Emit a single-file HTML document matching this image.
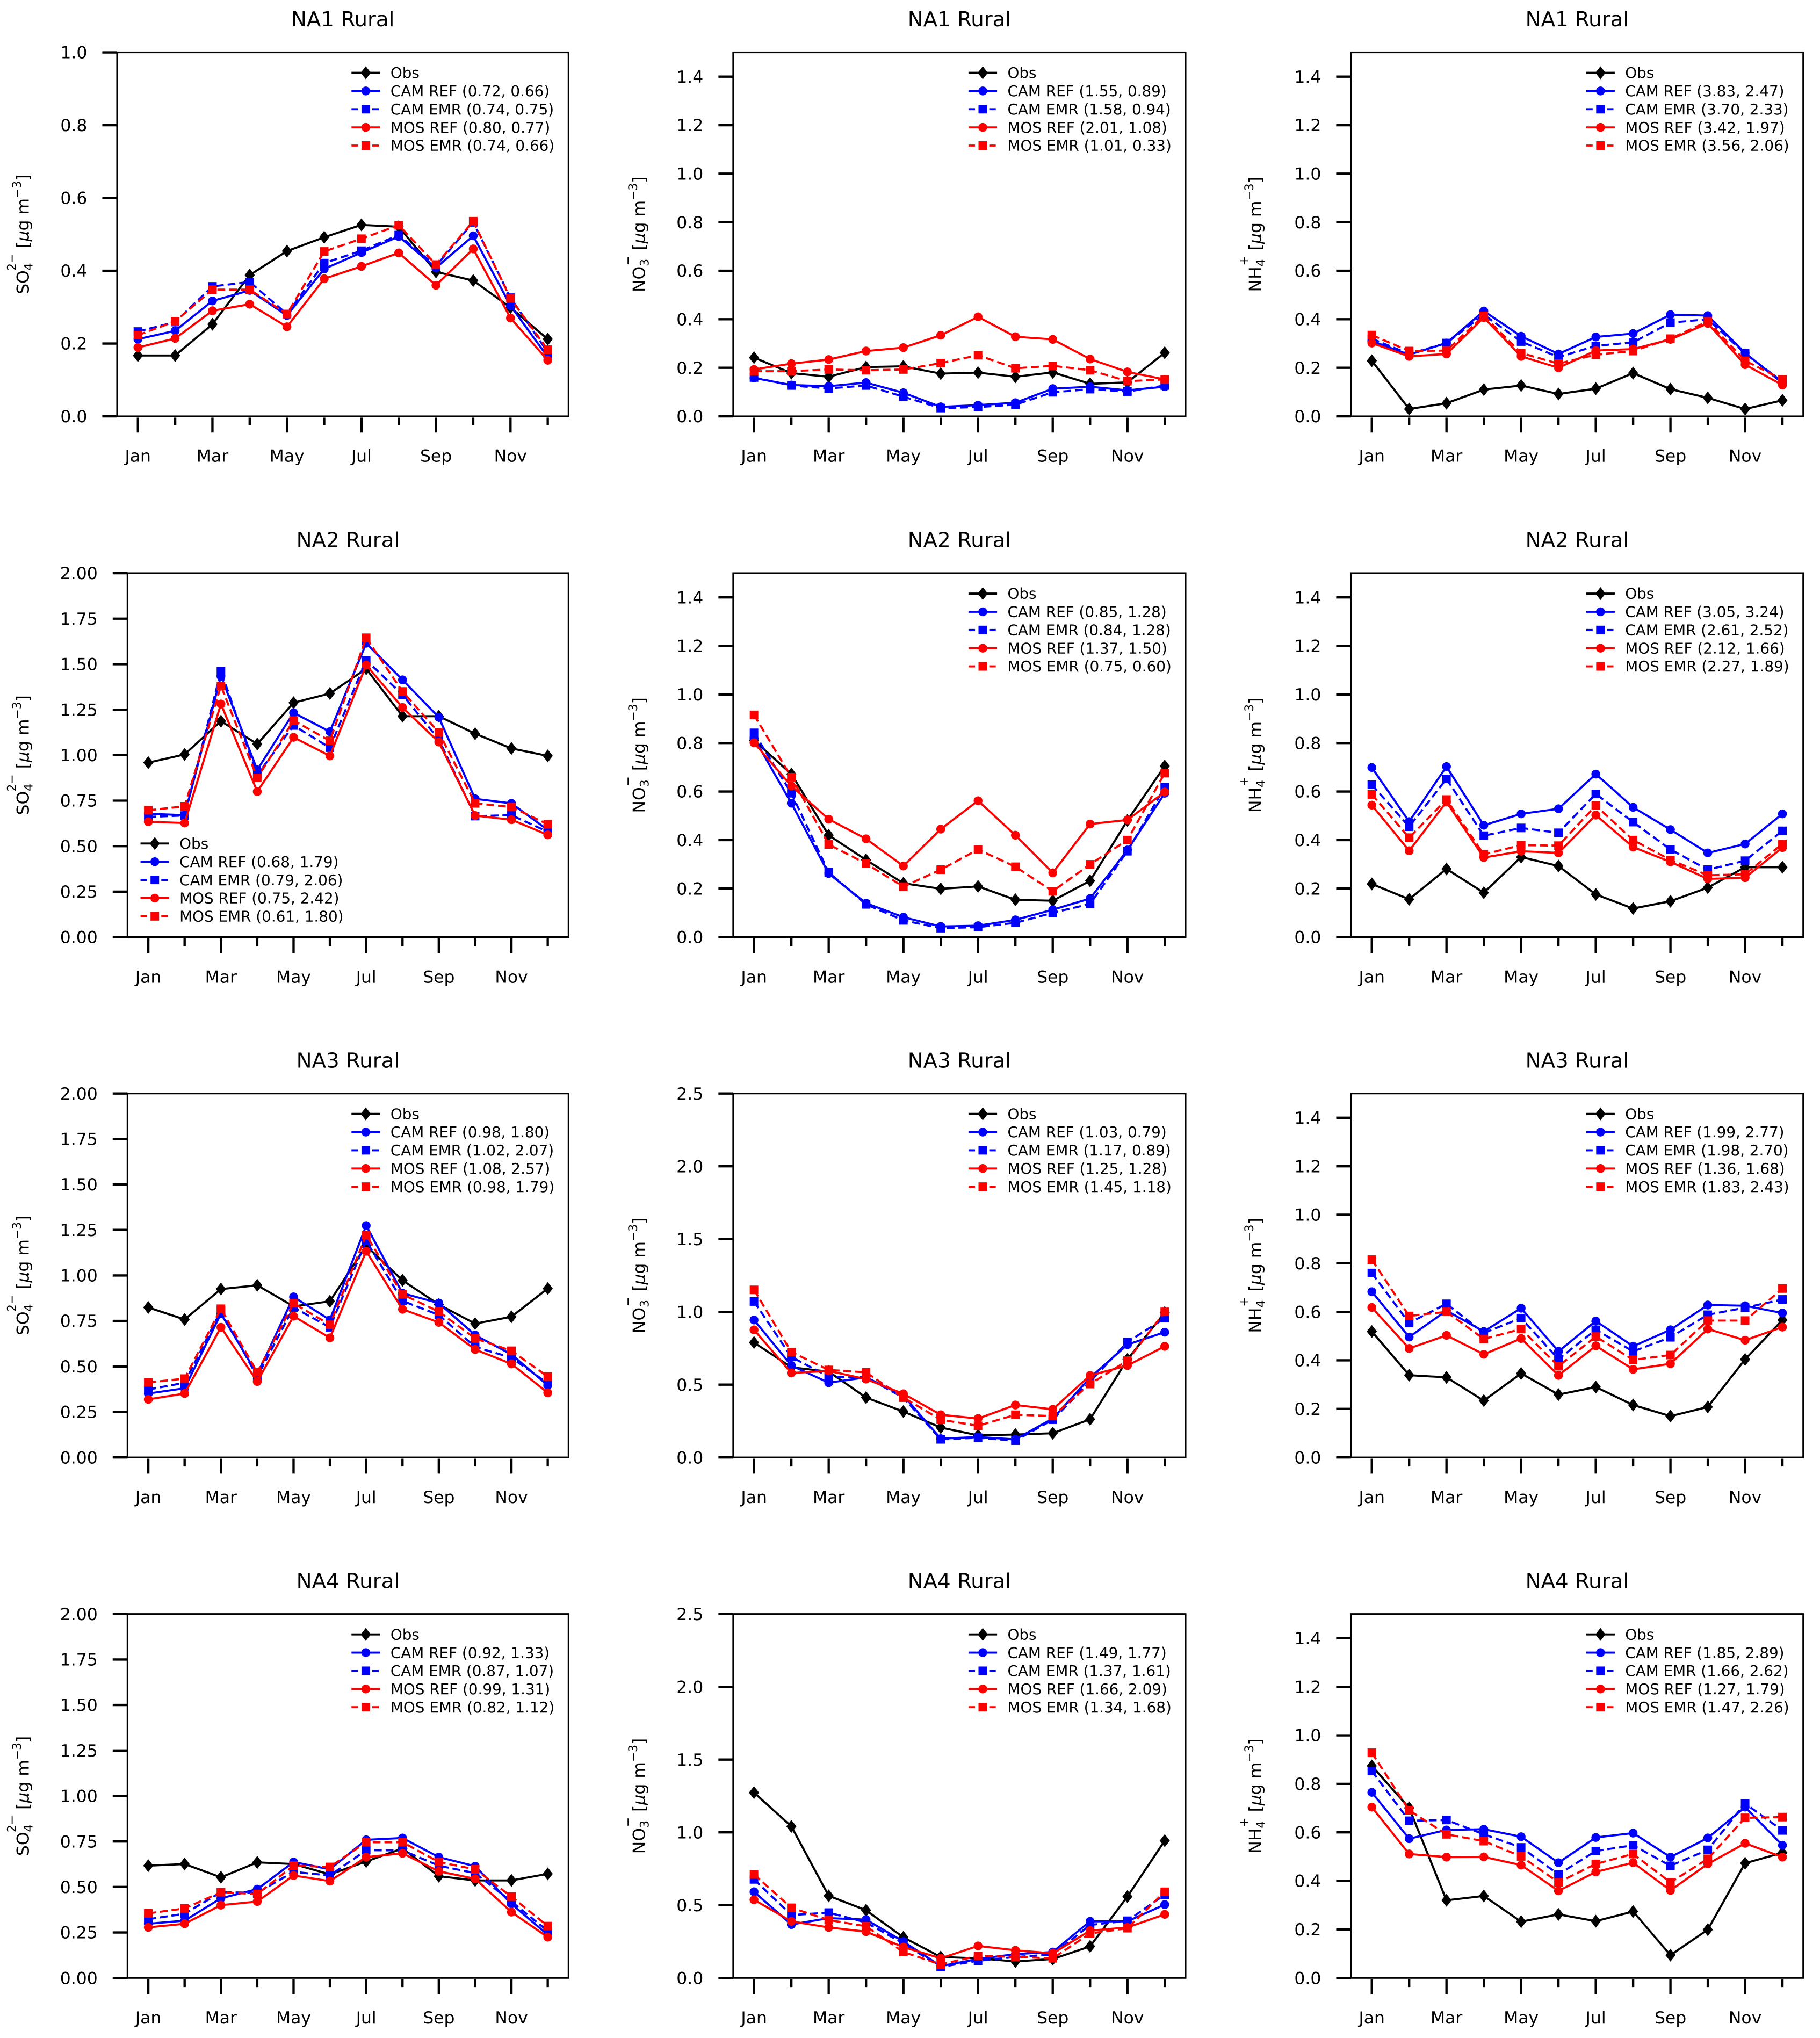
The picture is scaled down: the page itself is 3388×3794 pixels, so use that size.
<!DOCTYPE html>
<html>
<head>
<meta charset="utf-8">
<style>
html,body{margin:0;padding:0;background:#fff;}
svg{display:block;}
text{font-family:"DejaVu Sans","Liberation Sans",sans-serif;fill:#000;}
</style>
</head>
<body>
<svg id="fig" xmlns="http://www.w3.org/2000/svg" width="3388" height="3794" viewBox="0 0 1400 1568"></svg>
<script>
// ---------- data ----------
const months = ['Jan','Feb','Mar','Apr','May','Jun','Jul','Aug','Sep','Oct','Nov','Dec'];
const seriesNames = ['Obs','CAM REF','CAM EMR','MOS REF','MOS EMR'];

// Panel 1: NA1 SO4
const p1Obs    = [0.167,0.167,0.253,0.388,0.454,0.492,0.526,0.521,0.397,0.373,0.299,0.212];
const p1CamRef = [0.212,0.235,0.317,0.346,0.277,0.405,0.450,0.494,0.408,0.496,0.304,0.163];
const p1CamEmr = [0.233,0.259,0.357,0.369,0.281,0.421,0.455,0.498,0.413,0.533,0.326,0.176];
const p1MosRef = [0.189,0.214,0.290,0.308,0.246,0.378,0.412,0.449,0.360,0.460,0.270,0.154];
const p1MosEmr = [0.223,0.261,0.348,0.348,0.281,0.453,0.488,0.525,0.417,0.536,0.324,0.183];
const p1Stats  = ['(0.72, 0.66)','(0.74, 0.75)','(0.80, 0.77)','(0.74, 0.66)'];

// Panel 2: NA1 NO3
const p2Obs    = [0.242,0.178,0.163,0.203,0.206,0.176,0.180,0.163,0.181,0.134,0.140,0.262];
const p2CamRef = [0.158,0.129,0.124,0.139,0.097,0.039,0.046,0.056,0.114,0.122,0.107,0.122];
const p2CamEmr = [0.160,0.127,0.115,0.127,0.081,0.034,0.038,0.048,0.099,0.112,0.102,0.127];
const p2MosRef = [0.193,0.217,0.234,0.269,0.283,0.334,0.410,0.328,0.317,0.236,0.183,0.152];
const p2MosEmr = [0.186,0.186,0.193,0.190,0.193,0.219,0.252,0.198,0.208,0.190,0.145,0.152];
const p2Stats  = ['(1.55, 0.89)','(1.58, 0.94)','(2.01, 1.08)','(1.01, 0.33)'];

// Panel 3: NA1 NH4
const p3Obs    = [0.229,0.030,0.054,0.110,0.127,0.092,0.114,0.178,0.112,0.076,0.030,0.066];
const p3CamRef = [0.310,0.254,0.302,0.434,0.330,0.257,0.327,0.341,0.419,0.415,0.261,0.137];
const p3CamEmr = [0.320,0.257,0.302,0.419,0.308,0.244,0.290,0.305,0.386,0.400,0.259,0.142];
const p3MosRef = [0.302,0.247,0.257,0.407,0.247,0.200,0.271,0.277,0.317,0.383,0.213,0.129];
const p3MosEmr = [0.335,0.269,0.271,0.414,0.261,0.217,0.254,0.269,0.320,0.391,0.229,0.152];
const p3Stats  = ['(3.83, 2.47)','(3.70, 2.33)','(3.42, 1.97)','(3.56, 2.06)'];

// Panel 4: NA2 SO4
const p4Obs    = [0.959,1.004,1.187,1.061,1.288,1.339,1.475,1.214,1.214,1.118,1.037,0.996];
const p4CamRef = [0.678,0.670,1.434,0.919,1.233,1.129,1.615,1.414,1.208,0.760,0.735,0.589];
const p4CamEmr = [0.661,0.668,1.461,0.891,1.163,1.041,1.522,1.332,1.086,0.665,0.670,0.579];
const p4MosRef = [0.634,0.627,1.281,0.800,1.098,0.996,1.495,1.262,1.072,0.668,0.645,0.562];
const p4MosEmr = [0.697,0.719,1.380,0.875,1.190,1.079,1.645,1.350,1.125,0.735,0.715,0.620];
const p4Stats  = ['(0.68, 1.79)','(0.79, 2.06)','(0.75, 2.42)','(0.61, 1.80)'];

// Panel 5: NA2 NO3
const p5Obs    = [0.811,0.672,0.420,0.318,0.222,0.199,0.209,0.154,0.150,0.232,0.481,0.705];
const p5CamRef = [0.821,0.552,0.262,0.140,0.082,0.044,0.047,0.071,0.113,0.159,0.359,0.593];
const p5CamEmr = [0.842,0.593,0.267,0.135,0.069,0.037,0.041,0.059,0.100,0.137,0.354,0.618];
const p5MosRef = [0.801,0.623,0.486,0.405,0.293,0.445,0.562,0.420,0.265,0.466,0.483,0.598];
const p5MosEmr = [0.916,0.659,0.382,0.303,0.208,0.278,0.361,0.290,0.189,0.300,0.400,0.676];
const p5Stats  = ['(0.85, 1.28)','(0.84, 1.28)','(1.37, 1.50)','(0.75, 0.60)'];

// Panel 6: NA2 NH4
const p6Obs    = [0.219,0.156,0.281,0.183,0.330,0.293,0.176,0.118,0.148,0.204,0.288,0.288];
const p6CamRef = [0.699,0.476,0.703,0.461,0.508,0.529,0.672,0.535,0.443,0.347,0.384,0.508];
const p6CamEmr = [0.628,0.455,0.652,0.418,0.450,0.430,0.590,0.474,0.361,0.278,0.315,0.438];
const p6MosRef = [0.544,0.356,0.557,0.328,0.354,0.347,0.503,0.371,0.310,0.240,0.245,0.369];
const p6MosEmr = [0.588,0.410,0.567,0.341,0.379,0.377,0.542,0.400,0.318,0.255,0.259,0.384];
const p6Stats  = ['(3.05, 3.24)','(2.61, 2.52)','(2.12, 1.66)','(2.27, 1.89)'];

// Panel 7: NA3 SO4
const p7Obs    = [0.824,0.758,0.925,0.946,0.830,0.858,1.163,0.973,0.840,0.735,0.773,0.928];
const p7CamRef = [0.351,0.380,0.790,0.457,0.882,0.756,1.274,0.902,0.848,0.672,0.566,0.396];
const p7CamEmr = [0.373,0.410,0.806,0.444,0.824,0.715,1.190,0.860,0.783,0.607,0.548,0.407];
const p7MosRef = [0.319,0.351,0.715,0.417,0.776,0.657,1.133,0.814,0.742,0.593,0.514,0.355];
const p7MosEmr = [0.412,0.433,0.817,0.468,0.847,0.729,1.221,0.896,0.801,0.654,0.586,0.444];
const p7Stats  = ['(0.98, 1.80)','(1.02, 2.07)','(1.08, 2.57)','(0.98, 1.79)'];

// Panel 8: NA3 NO3
const p8Obs    = [0.789,0.619,0.589,0.411,0.315,0.205,0.152,0.157,0.166,0.262,0.673,0.995];
const p8CamRef = [0.944,0.631,0.513,0.550,0.425,0.129,0.140,0.124,0.267,0.547,0.775,0.860];
const p8CamEmr = [1.071,0.690,0.555,0.550,0.411,0.124,0.135,0.115,0.259,0.521,0.792,0.956];
const p8MosRef = [0.876,0.580,0.594,0.538,0.437,0.293,0.267,0.360,0.330,0.563,0.631,0.763];
const p8MosEmr = [1.151,0.724,0.601,0.584,0.411,0.259,0.217,0.293,0.284,0.504,0.665,1.000];
const p8Stats  = ['(1.03, 0.79)','(1.17, 0.89)','(1.25, 1.28)','(1.45, 1.18)'];

// Panel 9: NA3 NH4
const p9Obs    = [0.519,0.339,0.330,0.234,0.346,0.259,0.290,0.216,0.170,0.208,0.404,0.566];
const p9CamRef = [0.683,0.496,0.605,0.519,0.615,0.437,0.562,0.458,0.526,0.628,0.625,0.595];
const p9CamEmr = [0.760,0.554,0.633,0.513,0.574,0.405,0.526,0.437,0.495,0.588,0.617,0.651];
const p9MosRef = [0.618,0.449,0.503,0.425,0.490,0.338,0.460,0.363,0.386,0.529,0.483,0.537];
const p9MosEmr = [0.815,0.583,0.600,0.488,0.529,0.376,0.498,0.402,0.422,0.564,0.564,0.696];
const p9Stats  = ['(1.99, 2.77)','(1.98, 2.70)','(1.36, 1.68)','(1.83, 2.43)'];

// Panel 10: NA4 SO4
const p10Obs    = [0.617,0.626,0.553,0.635,0.626,0.569,0.640,0.712,0.559,0.536,0.536,0.572];
const p10CamRef = [0.298,0.315,0.438,0.488,0.637,0.597,0.759,0.769,0.664,0.614,0.407,0.237];
const p10CamEmr = [0.323,0.353,0.471,0.468,0.583,0.563,0.702,0.701,0.617,0.576,0.420,0.258];
const p10MosRef = [0.278,0.298,0.400,0.420,0.563,0.532,0.664,0.685,0.586,0.545,0.362,0.224];
const p10MosEmr = [0.355,0.382,0.471,0.461,0.617,0.610,0.746,0.746,0.637,0.597,0.447,0.285];
const p10Stats  = ['(0.92, 1.33)','(0.87, 1.07)','(0.99, 1.31)','(0.82, 1.12)'];

// Panel 11: NA4 NO3
const p11Obs    = [1.273,1.041,0.564,0.465,0.279,0.144,0.135,0.113,0.130,0.217,0.559,0.943];
const p11CamRef = [0.592,0.367,0.411,0.401,0.250,0.081,0.130,0.164,0.178,0.389,0.389,0.504];
const p11CamEmr = [0.677,0.432,0.449,0.381,0.237,0.076,0.118,0.144,0.161,0.364,0.393,0.572];
const p11MosRef = [0.537,0.389,0.347,0.318,0.212,0.135,0.220,0.190,0.169,0.325,0.347,0.437];
const p11MosEmr = [0.711,0.482,0.398,0.355,0.178,0.093,0.152,0.144,0.135,0.305,0.342,0.592];
const p11Stats  = ['(1.49, 1.77)','(1.37, 1.61)','(1.66, 2.09)','(1.34, 1.68)'];

// Panel 12: NA4 NH4
const p12Obs    = [0.874,0.701,0.320,0.338,0.232,0.262,0.234,0.274,0.094,0.199,0.473,0.516];
const p12CamRef = [0.765,0.574,0.610,0.613,0.582,0.475,0.579,0.597,0.498,0.577,0.704,0.547];
const p12CamEmr = [0.853,0.648,0.651,0.592,0.538,0.427,0.523,0.547,0.462,0.528,0.719,0.608];
const p12MosRef = [0.704,0.511,0.498,0.499,0.465,0.359,0.437,0.475,0.361,0.470,0.555,0.498];
const p12MosEmr = [0.928,0.691,0.592,0.564,0.501,0.394,0.470,0.511,0.394,0.491,0.660,0.663];
const p12Stats  = ['(1.85, 2.89)','(1.66, 2.62)','(1.27, 1.79)','(1.47, 2.26)'];

// Axis tick values
const ticksSo4Small = [0,0.2,0.4,0.6,0.8,1.0];
const ticksSo4Big   = [0,0.25,0.5,0.75,1.0,1.25,1.5,1.75,2.0];
const ticksFine     = [0,0.2,0.4,0.6,0.8,1.0,1.2,1.4];
const ticksNo3Big   = [0,0.5,1.0,1.5,2.0,2.5];

// ---------- rendering ----------
const NS = 'http://www.w3.org/2000/svg';
const svg = document.getElementById('fig');
function mk(tag, attrs, parent) {
  const e = document.createElementNS(NS, tag);
  for (const k in attrs) e.setAttribute(k, attrs[k]);
  (parent || svg).appendChild(e);
  return e;
}
const colors = ['#000000','#0000ff','#0000ff','#ff0000','#ff0000'];
const dashes = [null,null,'6,3',null,'6,3'];
const markers = ['diamond','circle','square','circle','square'];

function drawMarker(g, type, x, y, color) {
  let m;
  if (type === 'diamond') {
    m = mk('polygon', {points:`${x},${y-5} ${x+3.9},${y} ${x},${y+5} ${x-3.9},${y}`, fill:color}, g);
  } else if (type === 'circle') {
    m = mk('circle', {cx:x, cy:y, r:3.4, fill:color}, g);
  } else {
    m = mk('rect', {x:x-3.3, y:y-3.3, width:6.6, height:6.6, fill:color}, g);
  }
  return m;
}

const panels = [
  {row:0,col:0,title:'NA1 Rural',sp:'so4',ymax:1.0,ticks:ticksSo4Small,dec:1,data:[p1Obs,p1CamRef,p1CamEmr,p1MosRef,p1MosEmr],stats:p1Stats,leg:'ur'},
  {row:0,col:1,title:'NA1 Rural',sp:'no3',ymax:1.5,ticks:ticksFine,dec:1,data:[p2Obs,p2CamRef,p2CamEmr,p2MosRef,p2MosEmr],stats:p2Stats,leg:'ur'},
  {row:0,col:2,title:'NA1 Rural',sp:'nh4',ymax:1.5,ticks:ticksFine,dec:1,data:[p3Obs,p3CamRef,p3CamEmr,p3MosRef,p3MosEmr],stats:p3Stats,leg:'ur'},
  {row:1,col:0,title:'NA2 Rural',sp:'so4',ymax:2.0,ticks:ticksSo4Big,dec:2,data:[p4Obs,p4CamRef,p4CamEmr,p4MosRef,p4MosEmr],stats:p4Stats,leg:'ll'},
  {row:1,col:1,title:'NA2 Rural',sp:'no3',ymax:1.5,ticks:ticksFine,dec:1,data:[p5Obs,p5CamRef,p5CamEmr,p5MosRef,p5MosEmr],stats:p5Stats,leg:'ur'},
  {row:1,col:2,title:'NA2 Rural',sp:'nh4',ymax:1.5,ticks:ticksFine,dec:1,data:[p6Obs,p6CamRef,p6CamEmr,p6MosRef,p6MosEmr],stats:p6Stats,leg:'ur'},
  {row:2,col:0,title:'NA3 Rural',sp:'so4',ymax:2.0,ticks:ticksSo4Big,dec:2,data:[p7Obs,p7CamRef,p7CamEmr,p7MosRef,p7MosEmr],stats:p7Stats,leg:'ur'},
  {row:2,col:1,title:'NA3 Rural',sp:'no3',ymax:2.5,ticks:ticksNo3Big,dec:1,data:[p8Obs,p8CamRef,p8CamEmr,p8MosRef,p8MosEmr],stats:p8Stats,leg:'ur'},
  {row:2,col:2,title:'NA3 Rural',sp:'nh4',ymax:1.5,ticks:ticksFine,dec:1,data:[p9Obs,p9CamRef,p9CamEmr,p9MosRef,p9MosEmr],stats:p9Stats,leg:'ur'},
  {row:3,col:0,title:'NA4 Rural',sp:'so4',ymax:2.0,ticks:ticksSo4Big,dec:2,data:[p10Obs,p10CamRef,p10CamEmr,p10MosRef,p10MosEmr],stats:p10Stats,leg:'ur'},
  {row:3,col:1,title:'NA4 Rural',sp:'no3',ymax:2.5,ticks:ticksNo3Big,dec:1,data:[p11Obs,p11CamRef,p11CamEmr,p11MosRef,p11MosEmr],stats:p11Stats,leg:'ur'},
  {row:3,col:2,title:'NA4 Rural',sp:'nh4',ymax:1.5,ticks:ticksFine,dec:1,data:[p12Obs,p12CamRef,p12CamEmr,p12MosRef,p12MosEmr],stats:p12Stats,leg:'ur'}
];

const rowTops = [40.3, 441, 841.3, 1241.8];
const colRights = [437.3, 912, 1387.2];
const colLefts = [98, 564, 1039.3];
const ylabelX = [22, 496, 970];

function ylabel(g, sp, x, y) {
  const t = mk('text', {x:0, y:0, 'font-size':13, 'text-anchor':'middle', transform:`translate(${x},${y}) rotate(-90)`}, g);
  
  
  const parts = sp === 'so4' ? [['SO',0,13],['4',3,9],['2−',-10,9]]
              : sp === 'no3' ? [['NO',0,13],['3',3,9],['−',-10,9]]
              : [['NH',0,13],['4',3,9],['+',-10,9]];
  let cur = 0;
  parts.forEach((p, i) => {
    const ts = mk('tspan', {'font-size':p[2], dy:(p[1]-cur)}, t);
    if (sp === 'so4' && i === 2) ts.setAttribute('dx', -6);
    if (sp !== 'so4' && i === 2) ts.setAttribute('dx', -5);
    ts.textContent = p[0];
    cur = p[1];
  });
  const a = mk('tspan', {dy:(0-cur), 'font-size':13}, t); a.textContent = '  [';
  const mu = mk('tspan', {'font-style':'italic'}, t); mu.textContent = 'μ';
  const b = mk('tspan', {}, t); b.textContent = 'g m';
  const c = mk('tspan', {dy:-6, 'font-size':9}, t); c.textContent = '−3';
  const d = mk('tspan', {dy:6, 'font-size':13}, t); d.textContent = ']';
}

panels.forEach((p, pi) => {
  const left = (p.col === 0 && p.row === 0) ? 90 : colLefts[p.col];
  const right = colRights[p.col];
  const top = rowTops[p.row];
  const bottom = top + 280;
  const g = mk('g', {});
  
  

  const xs = i => left + 16 + i * (right - left - 32) / 11;
  const ys = v => bottom - v / p.ymax * 280;

  const tt = mk('text', {x:(left+right)/2, y:top-20, 'font-size':16, 'text-anchor':'middle'}, g);
  
  
  tt.textContent = p.title;

  p.ticks.forEach(v => {
    const yy = ys(v);
    const tk = mk('line', {x1:left-11.4, x2:left, y1:yy, y2:yy, stroke:'#000', 'stroke-width':1.8}, g);
    
    
    const tl = mk('text', {x:left-23, y:yy+4.6, 'font-size':13, 'text-anchor':'end'}, g);
    
    
    tl.textContent = v.toFixed(p.dec);
  });

  months.forEach((m, i) => {
    const xx = xs(i);
    const major = i % 2 === 0;
    const tk = mk('line', {x1:xx, x2:xx, y1:bottom+1, y2:bottom + (major ? 12.5 : 7), stroke:'#000', 'stroke-width':1.8}, g);
    
    
    if (major) {
      const tl = mk('text', {x:xx, y:bottom+35, 'font-size':13, 'text-anchor':'middle'}, g);
      
      
      tl.textContent = m;
    }
  });

  ylabel(g, p.sp, ylabelX[p.col], (top+bottom)/2);

  p.data.forEach((vals, si) => {
    const sg = mk('g', {}, g);
    
    
    const pts = vals.map((v, i) => `${xs(i).toFixed(2)},${ys(v).toFixed(2)}`).join(' ');
    const attrs = {points:pts, fill:'none', stroke:colors[si], 'stroke-width':1.6, 'stroke-linejoin':'round'};
    if (dashes[si]) attrs['stroke-dasharray'] = dashes[si];
    const pl = mk('polyline', attrs, sg);
    
    
    vals.forEach((v, i) => {
      const mm = drawMarker(sg, markers[si], xs(i), ys(v), colors[si]);
      
      
    });
  });

  const fr = mk('rect', {x:left, y:top, width:right-left, height:280, fill:'none', stroke:'#000', 'stroke-width':1.3}, g);
  
  

  const lg = mk('g', {}, g);
  
  
  let hx, ty0;
  if (p.leg === 'ur') { hx = right - 167; ty0 = top + 15.7; }
  else { hx = left + 10; ty0 = bottom - 72; }
  seriesNames.forEach((nm, si) => {
    const yy = ty0 + si * 14;
    const la = {x1:hx, x2:hx+22, y1:yy, y2:yy, stroke:colors[si], 'stroke-width':1.6};
    if (dashes[si]) la['stroke-dasharray'] = '5,3';
    const ln = mk('line', la, lg);
    
    
    const mm = drawMarker(lg, markers[si], hx+11, yy, colors[si]);
    
    
    const tx = mk('text', {x:hx+30, y:yy+4, 'font-size':11.5}, lg);
    
    
    tx.textContent = si === 0 ? nm : nm + ' ' + p.stats[si-1];
  });
});
</script>
</body>
</html>
